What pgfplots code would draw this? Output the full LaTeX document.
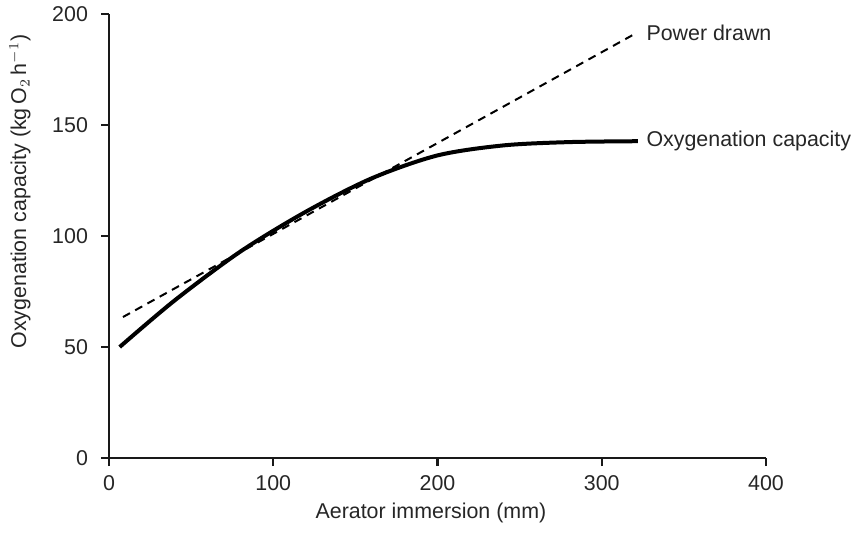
\documentclass[border=0pt]{standalone}
\usepackage{fontspec}
\setmainfont{Liberation Sans}
\usepackage{pgfplots}
\pgfplotsset{compat=1.18}
\begin{document}
\begin{tikzpicture}
\useasboundingbox (-54.5pt,-39pt) rectangle (372.5pt,229pt);
\begin{axis}[
  scale only axis,
  width=328.5pt, height=222pt,
  anchor=south west, at={(0,0)},
  xmin=0, xmax=400, ymin=0, ymax=200,
  axis x line*=bottom, axis y line*=left,
  axis line style={-, line width=1.4pt, black!90},
  xtick={0,100,200,300,400},
  ytick={0,50,100,150,200},
  tick align=outside,
  major tick length=4pt,
  tick style={line width=1.2pt, black!90},
  minor tick num=0,
  /pgf/number format/assume math mode=true,
  ticklabel style={font=\fontsize{10.7}{13}\selectfont, text=black!85},
  xticklabel style={yshift=-1pt},
  yticklabel style={xshift=-3pt},
  label style={font=\fontsize{10.7}{13}\selectfont, text=black!85},
  xlabel={Aerator immersion (mm)},
  ylabel={Oxygenation capacity (kg\,O$_2$\,h$^{-1}$)},
  xlabel style={at={(axis description cs:0.49,-0.124)}, anchor=center},
  ylabel style={at={(axis description cs:-0.1355,0.6)}, anchor=center},
  clip=false,
]
\addplot[black, line width=2pt, smooth] coordinates {
  (6.5,50) (40,71) (80,93) (120,111) (160,126) (200,136.3)
  (240,140.8) (280,142.3) (322,142.7)
};
\addplot[black, line width=1pt, dash pattern=on 4pt off 3pt] coordinates {
  (8.5,63.5) (321,191.4)
};
\node[anchor=west, inner sep=0pt, font=\fontsize{10.7}{13}\selectfont, text=black!85] at (axis cs:327,191.4) {Power drawn};
\node[anchor=west, inner sep=0pt, font=\fontsize{10.7}{13}\selectfont, text=black!85] at (axis cs:327,142.8) {Oxygenation capacity};
\end{axis}
\end{tikzpicture}
\end{document}
